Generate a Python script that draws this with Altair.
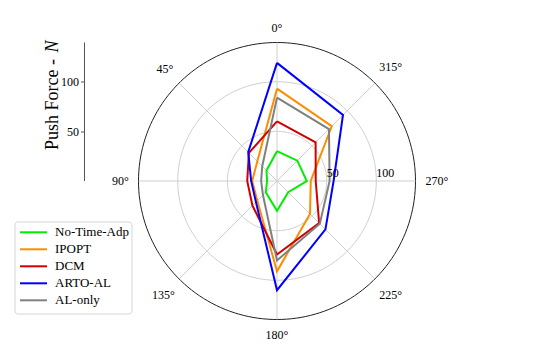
import altair as alt
import pandas as pd

# ---- data ----
angles = [0, 45, 90, 135, 180, 225, 270, 315]
methods = ["No-Time-Adp", "IPOPT", "DCM", "ARTO-AL", "AL-only"]
colors = ["#00ee00", "#ff8c00", "#d00000", "#0000ff", "#808080"]
no_time_adp = [30, 15, 10, 16, 30, 16, 30, 29]
ipopt = [93, 28, 25, 28, 91, 47, 34, 78]
dcm = [60, 40, 30, 35, 74, 60, 39, 55]
arto_al = [119, 41, 26, 30, 110, 69, 57, 94]
al_only = [84, 21, 16, 20, 80, 61, 53, 74]
grid_rings = [50, 100]
r_max = 139.5
angle_labels = [f"{a}°" for a in angles]

FONT = "Liberation Serif"
PX = 138.5          # plot radius in pixels
K = r_max / PX      # data units per pixel

series = [no_time_adp, ipopt, dcm, arto_al, al_only]
rows = []
for m, vals in zip(methods, series):
    closed_a = angles + [angles[0]]
    closed_v = vals + [vals[0]]
    for i, (a, r) in enumerate(zip(closed_a, closed_v)):
        rows.append({"method": m, "angle": a, "r": r, "k": i})
df = pd.DataFrame(rows)

ring_rows = []
for ring in grid_rings + [r_max]:
    for t in range(0, 361, 2):
        ring_rows.append({"ring": ring, "angle": t, "outer": ring == r_max})
ring_df = pd.DataFrame(ring_rows)

spoke_df = pd.DataFrame({"angle": angles, "r": [r_max] * len(angles)})
label_df = pd.DataFrame({"angle": angles, "label": angle_labels})
rlabel_df = pd.DataFrame({"r": grid_rings, "label": [str(v) for v in grid_rings]})
axis_df = pd.DataFrame({"lo": [0], "hi": [r_max]})
legend_df = pd.DataFrame({"method": methods, "i": list(range(len(methods)))})

xs = alt.Scale(domain=[-r_max, r_max], nice=False, zero=False)
ys = alt.Scale(domain=[-r_max, r_max], nice=False, zero=False)
cs = alt.Scale(domain=methods, range=colors)
y_axis = alt.Axis(values=[50, 100], offset=54, domain=False, grid=False,
                  tickSize=4, tickColor="#555555", tickWidth=1,
                  labelFont=FONT, labelFontSize=12, labelColor="black",
                  labelPadding=2, title=None)

def X(f):
    return alt.X(f, type="quantitative", scale=xs, axis=None)

def Y(f):
    return alt.Y(f, type="quantitative", scale=ys, axis=y_axis)

polar = "datum.angle * PI / 180"

rings = alt.Chart(ring_df).transform_calculate(
    px=f"-datum.ring * sin({polar})", py=f"datum.ring * cos({polar})"
).mark_line(strokeWidth=1, interpolate="linear").encode(
    x=X("px"), y=Y("py"), detail="ring:N", order="angle:Q",
    color=alt.condition("datum.outer", alt.value("#222222"), alt.value("#cfcfcf"))
)

spokes = alt.Chart(spoke_df).transform_calculate(
    x0="0", y0="0",
    px=f"-datum.r * sin({polar})", py=f"datum.r * cos({polar})"
).mark_rule(color="#cfcfcf", strokeWidth=1).encode(
    x=X("x0"), y=Y("y0"), x2="px", y2="py"
)

lines = alt.Chart(df).transform_calculate(
    px=f"-datum.r * sin({polar})", py=f"datum.r * cos({polar})"
).mark_line(strokeWidth=2, strokeJoin="miter").encode(
    x=X("px"), y=Y("py"), order="k:Q",
    color=alt.Color("method:N", sort=methods, scale=cs, legend=None)
)

angle_text = alt.Chart(label_df).transform_calculate(
    dist=f"(147 + abs(sin({polar})) * length(datum.label) * 3.2 + abs(cos({polar})) * 6.5) * {K}"
).transform_calculate(
    px=f"-datum.dist * sin({polar})", py=f"datum.dist * cos({polar})"
).mark_text(font=FONT, fontSize=12, color="black", align="center", baseline="middle").encode(
    x=X("px"), y=Y("py"), text="label:N"
)

r_text = alt.Chart(rlabel_df).transform_calculate(zero="0").mark_text(
    font=FONT, fontSize=12, color="black", align="left", baseline="bottom", dy=-1
).encode(x=X("r"), y=Y("zero"), text="label:N")

axis_line = alt.Chart(axis_df).mark_rule(color="#555555", strokeWidth=1).encode(
    x=alt.value(-54), y=Y("lo"), y2="hi"
)

title_main = alt.Chart(axis_df).mark_text(
    text="Push Force - ", font=FONT, fontSize=18, angle=270,
    align="left", baseline="middle", color="black"
).encode(x=alt.value(-86), y=alt.value(107.5))

title_n = alt.Chart(axis_df).mark_text(
    text="N", font=FONT, fontSize=18, fontStyle="italic", angle=270,
    align="left", baseline="middle", color="black"
).encode(x=alt.value(-86), y=alt.value(10))

# ---- legend (box, line samples, labels) ----
legend_box = alt.Chart(axis_df).mark_rect(
    fill="white", stroke="#d6d6d6", strokeWidth=1, cornerRadius=3
).encode(x=alt.value(-123.5), x2=alt.value(-6.5),
         y=alt.value(179.5), y2=alt.value(271.5))

legend_pos = alt.Chart(legend_df).transform_calculate(
    ly=f"({PX} - (189.8 + 17 * datum.i)) * {K}"
)

legend_lines = legend_pos.mark_rule(strokeWidth=2).encode(
    x=alt.value(-118.5), x2=alt.value(-91.5), y=Y("ly"),
    color=alt.Color("method:N", sort=methods, scale=cs, legend=None)
)

legend_labels = legend_pos.mark_text(
    font=FONT, fontSize=13, color="black", align="left", baseline="middle"
).encode(x=alt.value(-83.5), y=Y("ly"), text="method:N")

chart = alt.layer(
    rings, spokes, lines, angle_text, r_text, axis_line, title_main, title_n,
    legend_box, legend_lines, legend_labels
).properties(
    width=277, height=277,
    autosize=alt.AutoSizeParams(type="none"),
    padding={"left": 130.5, "top": 34.5, "right": 116.5, "bottom": 32.5},
).configure_view(stroke=None)

chart.save("out.html", embed_options={"renderer": "svg", "actions": False})
